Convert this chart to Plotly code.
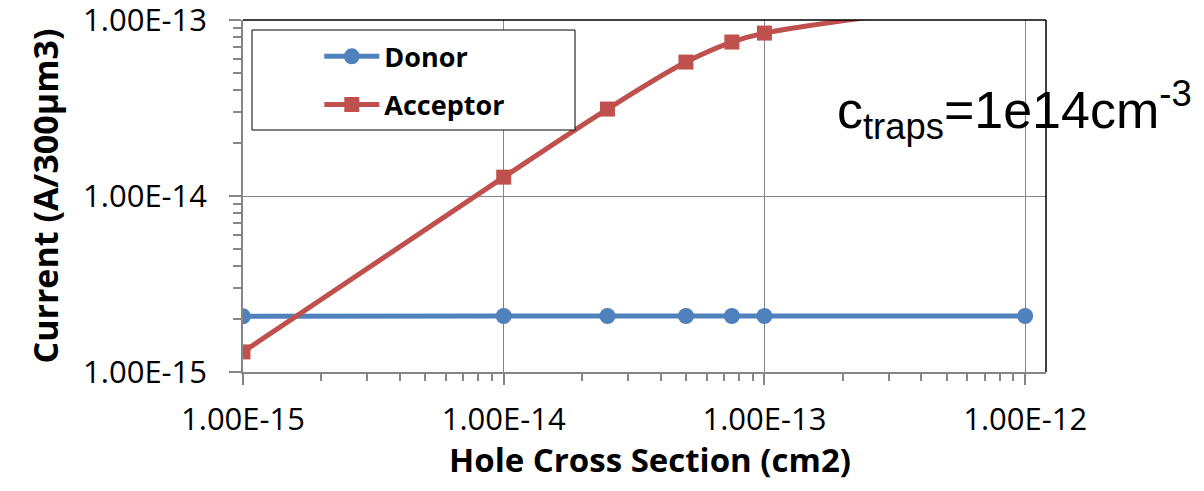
import plotly.graph_objects as go

# Hole capture cross section (cm2)
cross_section = [1e-15, 1e-14, 2.5e-14, 5e-14, 7.5e-14, 1e-13, 1e-12]
# Leakage current per 300 um3 for each trap type
donor_current = [2.07e-15, 2.08e-15, 2.08e-15, 2.08e-15, 2.08e-15, 2.08e-15, 2.08e-15]
acceptor_current = [1.30e-15, 1.28e-14, 3.12e-14, 5.77e-14, 7.50e-14, 8.43e-14, 1.35e-13]

x_ticks = [1e-15, 1e-14, 1e-13, 1e-12]
x_tick_text = ["1.00E-15", "1.00E-14", "1.00E-13", "1.00E-12"]
y_ticks = [1e-15, 1e-14, 1e-13]
y_tick_text = ["1.00E-15", "1.00E-14", "1.00E-13"]

BLUE = "#4F81BD"
RED = "#C0504D"
GRID = "#868686"
TICK_FONT = dict(family="Open Sans", size=31, color="black")

fig = go.Figure()
fig.add_trace(go.Scatter(
    x=cross_section, y=donor_current, name="Donor", legendgroup="d",
    mode="lines+markers", line=dict(color=BLUE, width=5, shape="spline", smoothing=1),
    marker=dict(symbol="circle", size=16, color=BLUE),
))
fig.add_trace(go.Scatter(
    x=cross_section, y=acceptor_current, name="Acceptor", legendgroup="a",
    mode="lines+markers", line=dict(color=RED, width=5, shape="spline", smoothing=1),
    marker=dict(symbol="square", size=15, color=RED),
))

fig.update_xaxes(
    type="log", range=[-15, -11.92], tickvals=x_ticks, ticktext=x_tick_text,
    showline=True, linecolor=GRID, linewidth=1.5,
    showgrid=True, gridcolor=GRID, gridwidth=1,
    ticks="outside", ticklen=11, tickcolor=GRID, tickwidth=1.5,
    minor=dict(ticks="outside", ticklen=7, tickcolor=GRID, tickwidth=1.5,
               dtick="D1", showgrid=False),
    tickfont=TICK_FONT, ticklabelstandoff=8, ticklabeloverflow="allow",
    zeroline=False, automargin=False,
)
fig.update_yaxes(
    type="log", range=[-15.0002, -12.9998], tickvals=y_ticks, ticktext=y_tick_text,
    showline=True, linecolor=GRID, linewidth=1.5,
    showgrid=True, gridcolor=GRID, gridwidth=1,
    ticks="outside", ticklen=12, tickcolor=GRID, tickwidth=1.5,
    minor=dict(ticks="outside", ticklen=8, tickcolor=GRID, tickwidth=1.5,
               dtick="D1", showgrid=False),
    tickfont=TICK_FONT, ticklabelstandoff=16, ticklabeloverflow="allow",
    zeroline=False, automargin=False,
    title=dict(text="Current (A/300µm3)", standoff=14,
               font=dict(family="Open Sans", size=34, color="black", weight="bold")),
)

fig.update_layout(
    width=1204, height=491,
    margin=dict(l=243, r=158, t=20, b=119),
    paper_bgcolor="white", plot_bgcolor="white",
    showlegend=True,
    legend=dict(
        x=0.095, y=0.965, xanchor="left", yanchor="top",
        bgcolor="rgba(0,0,0,0)", borderwidth=0,
        font=dict(family="Open Sans", size=27, color="black", weight="bold"),
        itemwidth=55, tracegroupgap=10,
    ),
    shapes=[
        # legend frame
        dict(type="rect", xref="paper", yref="paper",
             x0=9 / 803, x1=332 / 803, y0=242 / 352, y1=342 / 352,
             fillcolor="white", line=dict(color="black", width=1), layer="above"),
        # plot area border on the top and right
        dict(type="line", xref="paper", yref="paper", x0=0, x1=1, y0=1, y1=1,
             line=dict(color="black", width=1.5), layer="above"),
        dict(type="line", xref="paper", yref="paper", x0=1, x1=1, y0=0, y1=1,
             line=dict(color="black", width=1.5), layer="above"),
    ],
    annotations=[
        # x-axis title
        dict(text="<b>Hole Cross Section (cm2)</b>",
             xref="paper", yref="paper", x=(650 - 243) / 803, y=(372 - 459) / 352,
             xanchor="center", yanchor="middle", showarrow=False,
             font=dict(family="Open Sans", size=33, color="black")),
        dict(text="c<sub>traps</sub>=1e14cm<sup>-3</sup>",
             xref="paper", yref="paper", x=(835 - 243) / 803, y=(372 - 110) / 352,
             xanchor="left", yanchor="middle", showarrow=False,
             font=dict(family="Liberation Sans", size=52, color="black")),
    ],
)

fig.write_html("out.html")
